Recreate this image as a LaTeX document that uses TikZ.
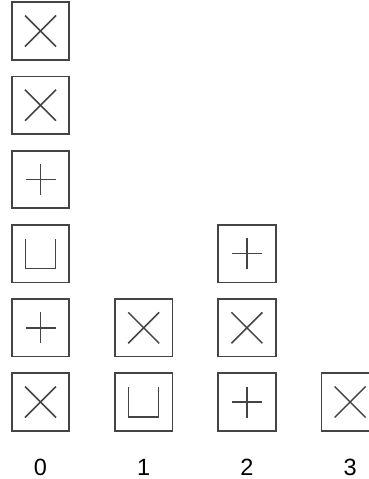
\documentclass[tikz,border=0pt]{standalone}
\usepackage{fontspec}
\setmainfont{Liberation Sans}
\usetikzlibrary{positioning}
\definecolor{stackgray}{HTML}{444444}
\tikzset{
  box/.style={draw=stackgray, line width=1.7pt, minimum size=57.5pt, inner sep=0pt},
  mark line/.style={draw=stackgray, line width=1.5pt},
  xbox/.style={box, path picture={
      \draw[mark line] ([shift={(-15.5pt,-15.5pt)}]path picture bounding box.center) -- ++(31pt,31pt);
      \draw[mark line] ([shift={(-15.5pt,15.5pt)}]path picture bounding box.center) -- ++(31pt,-31pt);}},
  pbox/.style={box, path picture={
      \draw[mark line] ([xshift=-15pt]path picture bounding box.center) -- ++(30pt,0pt);
      \draw[mark line] ([yshift=-15.5pt]path picture bounding box.center) -- ++(0pt,31pt);}},
  ubox/.style={box, path picture={
      \draw[mark line] ([shift={(-15pt,15pt)}]path picture bounding box.center) -- ++(0pt,-30pt) -- ++(30pt,0pt) -- ++(0pt,30pt);}},
  lbl/.style={font=\fontsize{23.5}{28}\selectfont, text=black, inner sep=3pt},
}

\begin{document}
\begin{tikzpicture}[node distance=15pt and 44pt]
  \useasboundingbox (0,0) rectangle (369pt,-479pt);
  % bottom row
  \node[xbox] (s0a) at (40.5pt,-402pt) {};
  \node[ubox, right=of s0a] (s1a) {};
  \node[pbox, right=of s1a] (s2a) {};
  \node[xbox, right=of s2a] (s3a) {};
  % stack 0
  \node[pbox, above=of s0a] (s0b) {};
  \node[ubox, above=of s0b] (s0c) {};
  \node[pbox, above=of s0c] (s0d) {};
  \node[xbox, above=of s0d] (s0e) {};
  \node[xbox, above=of s0e] (s0f) {};
  % stack 1
  \node[xbox, above=of s1a] (s1b) {};
  % stack 2
  \node[xbox, above=of s2a] (s2b) {};
  \node[pbox, above=of s2b] (s2c) {};
  % indices
  \node[lbl, below=36pt of s0a.south, anchor=center] (n0) {0};
  \node[lbl, below=36pt of s1a.south, anchor=center] (n1) {1};
  \node[lbl, below=36pt of s2a.south, anchor=center] (n2) {2};
  \node[lbl, below=36pt of s3a.south, anchor=center] (n3) {3};
\end{tikzpicture}
\end{document}
